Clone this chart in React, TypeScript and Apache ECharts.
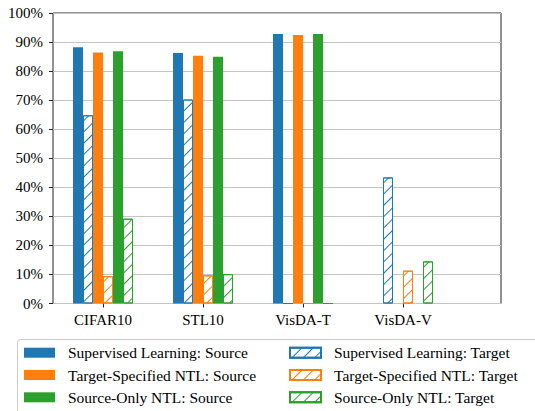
import React, { useEffect, useRef } from "react";
import * as echarts from "echarts";

const categories = ["CIFAR10", "STL10", "VisDA-T", "VisDA-V"];
const seriesNames = [
  "Supervised Learning: Source",
  "Supervised Learning: Target",
  "Target-Specified NTL: Source",
  "Target-Specified NTL: Target",
  "Source-Only NTL: Source",
  "Source-Only NTL: Target",
];
const supSource = [88.2, 86.2, 92.8, 0];
const supTarget = [64.8, 70.2, 0, 43.4];
const tsSource = [86.4, 85.3, 92.4, 0];
const tsTarget = [9.4, 9.7, 0, 11.3];
const soSource = [86.8, 84.9, 92.8, 0];
const soTarget = [29.2, 10.1, 0, 14.5];
const seriesValues = [supSource, supTarget, tsSource, tsTarget, soSource, soTarget];
const seriesColors = ["#1f77b4", "#1f77b4", "#ff7f0e", "#ff7f0e", "#2ca02c", "#2ca02c"];
const hatched = [false, true, false, true, false, true];

const FONT = "'Liberation Serif', 'Times New Roman', serif";

export default function App() {
  const ref = useRef<HTMLDivElement>(null);
  useEffect(() => {
    if (!ref.current) return;
    document.body.style.margin = "0";
    const chart = echarts.init(ref.current, undefined, { renderer: "svg" });
    const series = seriesNames.map((name, i) => {
      const c = seriesColors[i];
      const itemStyle: any = hatched[i]
        ? {
            color: "#ffffff",
            borderColor: c,
            borderWidth: 1,
            decal: {
              symbol: "rect",
              symbolSize: 1,
              color: c,
              backgroundColor: "#ffffff",
              dashArrayX: [1, 0],
              dashArrayY: [1, 7],
              rotation: -Math.PI / 4,
            },
          }
        : { color: c, borderColor: c, borderWidth: 0 };
      return {
        name,
        type: "bar",
        xAxisIndex: 1,
        yAxisIndex: 1,
        barWidth: 10,
        barGap: "0%",
        data: seriesValues[i],
        itemStyle,
        z: 3,
      };
    });
    const rowCenters = [352.7, 375, 397.3];
    const legendOrder = [
      [0, 2, 4],
      [1, 3, 5],
    ];
    const colLeft = [24, 289];
    const legends: any[] = [];
    legendOrder.forEach((col, ci) => {
      col.forEach((si, ri) => {
        legends.push({
          orient: "horizontal",
          left: colLeft[ci],
          top: rowCenters[ri] - 8,
          itemWidth: 31,
          itemHeight: 10,
          icon: "rect",
          padding: 0,
          selectedMode: false,
          data: [seriesNames[si]],
          textStyle: {
            fontFamily: FONT,
            fontSize: 15.5,
            lineHeight: 16,
            color: "#000",
            padding: [0, 0, 0, 8],
          },
        });
      });
    });
    chart.setOption({
      animation: false,
      backgroundColor: "#ffffff",
      textStyle: { fontFamily: FONT },
      grid: [
        {
          left: 53,
          top: 13,
          width: 448,
          height: 290.5,
          show: true,
          borderColor: "#222",
          borderWidth: 1,
          backgroundColor: "transparent",
          containLabel: false,
        },
        {
          left: 53,
          top: 13,
          width: 400,
          height: 290.5,
          containLabel: false,
        },
      ],
      xAxis: [
        {
          type: "value",
          gridIndex: 0,
          min: 0,
          max: 1,
          axisLine: { show: false },
          axisTick: { show: false },
          axisLabel: { show: false },
          splitLine: { show: false },
        },
        {
          type: "category",
          gridIndex: 1,
          data: categories,
          axisLine: { show: false },
          axisTick: { show: true, alignWithLabel: true, length: 4, lineStyle: { color: "#222" } },
          axisLabel: { fontFamily: FONT, fontSize: 15, color: "#000", margin: 9 },
          splitLine: { show: false },
        },
      ],
      yAxis: [
        {
          type: "value",
          gridIndex: 0,
          min: 0,
          max: 100,
          interval: 10,
          axisLine: { show: false },
          axisTick: { show: true, length: 4, lineStyle: { color: "#222" } },
          axisLabel: {
            fontFamily: FONT,
            fontSize: 15,
            color: "#000",
            margin: 10,
            formatter: "{value}%",
          },
          splitLine: { show: true, lineStyle: { color: "#c4c4c4", width: 1 } },
        },
        {
          type: "value",
          gridIndex: 1,
          min: 0,
          max: 100,
          interval: 10,
          axisLine: { show: false },
          axisTick: { show: false },
          axisLabel: { show: false },
          splitLine: { show: false },
        },
      ],
      legend: legends,
      graphic: [
        {
          type: "rect",
          left: 17,
          top: 339,
          z: -1,
          shape: { width: 560, height: 90, r: 3 },
          style: { fill: "#ffffff", stroke: "#cccccc", lineWidth: 1 },
        },
      ],
      series,
    });
    return () => chart.dispose();
  }, []);
  return <div ref={ref} style={{ width: 535, height: 411 }} />;
}
